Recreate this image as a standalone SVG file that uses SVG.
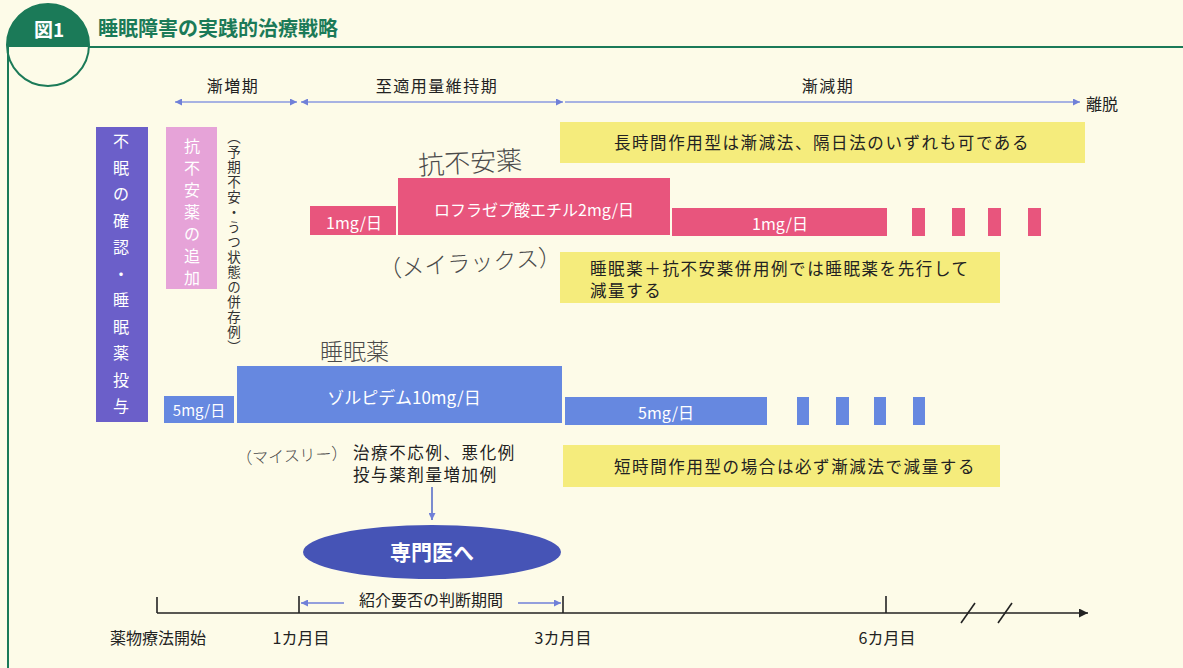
<svg xmlns="http://www.w3.org/2000/svg" width="1183" height="668" viewBox="0 0 1183 668">
<defs>
<style>
text{font-family:"Noto Sans CJK JP","Noto Sans CJK SC",sans-serif;}
.lbl{font-size:16px;fill:#222;}
.yel{fill:#f5ec7c;}
.ytx{font-size:16.5px;fill:#222;letter-spacing:1.6px;}
.wt{fill:#fff;}
.hand{font-weight:300;fill:#4a4a4a;}
.red{fill:#e8557d;}
.blu{fill:#6688e0;}
.per{stroke:#8a9ae0;stroke-width:1.6;fill:none;}
.tl{stroke:#222;stroke-width:1.6;fill:none;}
.vt{font-size:13.5px;fill:#333;letter-spacing:1.5px;writing-mode:vertical-rl;}
</style>
<marker id="ah" viewBox="0 0 10 10" refX="10" refY="5" markerWidth="8" markerHeight="7" markerUnits="userSpaceOnUse" orient="auto-start-reverse">
<path d="M0,0 L10,5 L0,10 z" fill="#7080d8"/>
</marker>
<marker id="ahk" viewBox="0 0 10 10" refX="10" refY="5" markerWidth="13" markerHeight="9" markerUnits="userSpaceOnUse" orient="auto">
<path d="M0,0 L10,5 L0,10 z" fill="#222"/>
</marker>
<clipPath id="topHalf"><rect x="0" y="0" width="100" height="47"/></clipPath>
</defs>
<rect x="0" y="0" width="1183" height="668" fill="#fdfbe8"/>

<g id="header">
<circle cx="48" cy="45" r="41" fill="#1b7a58" clip-path="url(#topHalf)"/>
<circle cx="48" cy="45" r="41" fill="none" stroke="#1b7a58" stroke-width="2"/>
<line x1="89" y1="47" x2="1183" y2="47" stroke="#1b7a58" stroke-width="2"/>
<line x1="8" y1="45" x2="8" y2="668" stroke="#1b7a58" stroke-width="2"/>
<text x="49" y="37" text-anchor="middle" font-size="19" font-weight="700" fill="#fff">図1</text>
<text x="98" y="36" font-size="20" font-weight="700" fill="#1b7a58">睡眠障害の実践的治療戦略</text>
</g>

<g id="periods">
<text class="lbl" x="233" y="92" text-anchor="middle" letter-spacing="1.5">漸増期</text>
<text class="lbl" x="437" y="92" text-anchor="middle" letter-spacing="1.5">至適用量維持期</text>
<text class="lbl" x="828" y="92" text-anchor="middle" letter-spacing="1.5">漸減期</text>
<text class="lbl" x="1086" y="110">離脱</text>
</g>

<g id="box-insomnia">
<rect x="96" y="127" width="52" height="295" fill="#6b5fc9"/>
<text class="wt" font-size="16" text-anchor="middle">
<tspan x="121" y="147">不</tspan><tspan x="121" y="173.5">眠</tspan><tspan x="121" y="200">の</tspan><tspan x="121" y="226.5">確</tspan><tspan x="121" y="253">認</tspan><tspan x="121" y="279.5">・</tspan><tspan x="121" y="306">睡</tspan><tspan x="121" y="332.5">眠</tspan><tspan x="121" y="359">薬</tspan><tspan x="121" y="385.5">投</tspan><tspan x="121" y="412">与</tspan>
</text>
</g>

<g id="box-anxiolytic">
<rect x="166" y="127" width="51" height="162" fill="#e6a3d8"/>
<text class="wt" font-size="16" text-anchor="middle">
<tspan x="192" y="152">抗</tspan><tspan x="192" y="174">不</tspan><tspan x="192" y="196">安</tspan><tspan x="192" y="218">薬</tspan><tspan x="192" y="240">の</tspan><tspan x="192" y="262">追</tspan><tspan x="192" y="284">加</tspan>
</text>
</g>

<g id="note-comorbid">
<text class="vt" x="234" y="130">（予期不安・うつ状態の併存例）</text>
</g>

<g id="bar-lorazepate">
<rect class="red" x="310" y="206" width="86" height="29"/>
<rect class="red" x="398" y="178" width="272" height="57"/>
<rect class="red" x="672" y="208" width="215" height="28"/>
<rect class="red" x="912" y="208" width="13" height="28"/>
<rect class="red" x="952" y="208" width="13" height="28"/>
<rect class="red" x="988" y="208" width="13" height="28"/>
<rect class="red" x="1028" y="208" width="13" height="28"/>
<text class="wt" x="354" y="229" font-size="16" text-anchor="middle">1mg/日</text>
<text class="wt" x="534" y="216" font-size="16" text-anchor="middle">ロフラゼプ酸エチル2mg/日</text>
<text class="wt" x="780" y="230" font-size="16" text-anchor="middle">1mg/日</text>
</g>

<g id="bar-zolpidem">
<rect class="blu" x="164" y="396" width="70" height="27"/>
<rect class="blu" x="237" y="366" width="325" height="57"/>
<rect class="blu" x="565" y="397" width="202" height="28"/>
<rect class="blu" x="797" y="397" width="12" height="28"/>
<rect class="blu" x="836" y="397" width="13" height="28"/>
<rect class="blu" x="874" y="397" width="12" height="28"/>
<rect class="blu" x="913" y="397" width="12" height="28"/>
<text class="wt" x="199" y="416" font-size="15" text-anchor="middle">5mg/日</text>
<text class="wt" x="404" y="404" font-size="17" text-anchor="middle">ゾルピデム10mg/日</text>
<text class="wt" x="666" y="419" font-size="16" text-anchor="middle">5mg/日</text>
</g>

<g id="handwritten">
<text class="hand" x="418" y="172" font-size="26" transform="rotate(-3 470 160)">抗不安薬</text>
<text class="hand" x="378" y="272" font-size="23" transform="rotate(-4 460 258)">（メイラックス）</text>
<text class="hand" x="320" y="360" font-size="23">睡眠薬</text>
<text class="hand" x="236" y="462" font-size="16" transform="rotate(-3 285 455)">（マイスリー）</text>
</g>

<g id="note-long">
<rect class="yel" x="560" y="122" width="525" height="41"/>
<text class="ytx" x="822" y="149" text-anchor="middle">長時間作用型は漸減法、隔日法のいずれも可である</text>
</g>

<g id="note-combined">
<rect class="yel" x="560" y="252" width="440" height="51"/>
<text class="ytx" x="590" y="275">睡眠薬＋抗不安薬併用例では睡眠薬を先行して</text>
<text class="ytx" x="590" y="297">減量する</text>
</g>

<g id="note-short">
<rect class="yel" x="563" y="445" width="437" height="42"/>
<text class="ytx" x="795" y="473" text-anchor="middle">短時間作用型の場合は必ず漸減法で減量する</text>
</g>

<g id="note-refractory">
<text class="ytx" x="353" y="459" letter-spacing="0.5">治療不応例、悪化例</text>
<text class="ytx" x="353" y="481" letter-spacing="0.5">投与薬剤量増加例</text>
</g>

<g id="specialist">
<ellipse cx="432" cy="552" rx="129" ry="27" fill="#4654b6"/>
<text x="432" y="560" font-size="21" font-weight="700" fill="#fff" text-anchor="middle">専門医へ</text>
</g>

<g id="timeline-labels">
<text class="lbl" x="158" y="644" text-anchor="middle">薬物療法開始</text>
<text class="lbl" x="301" y="644" text-anchor="middle">1カ月目</text>
<text class="lbl" x="563" y="644" text-anchor="middle">3カ月目</text>
<text class="lbl" x="887" y="644" text-anchor="middle">6カ月目</text>
<text class="lbl" x="431" y="606" text-anchor="middle" font-size="15">紹介要否の判断期間</text>
</g>

<g id="connectors">
<line class="per" x1="175" y1="102" x2="297" y2="102" marker-start="url(#ah)" marker-end="url(#ah)"/>
<line class="per" x1="301" y1="102" x2="563" y2="102" marker-start="url(#ah)" marker-end="url(#ah)"/>
<line class="per" x1="565" y1="102" x2="1080" y2="102" marker-end="url(#ah)"/>
<line x1="432" y1="487" x2="432" y2="520" stroke="#5a70c8" stroke-width="1.6" marker-end="url(#ah)"/>
<line x1="157" y1="613" x2="1088" y2="613" class="tl" marker-end="url(#ahk)"/>
<line x1="157" y1="597" x2="157" y2="613" class="tl"/>
<line x1="299" y1="596" x2="299" y2="613" class="tl"/>
<line x1="563" y1="596" x2="563" y2="613" class="tl"/>
<line x1="886" y1="596" x2="886" y2="613" class="tl"/>
<line x1="961" y1="623" x2="975" y2="603" class="tl"/>
<line x1="998" y1="623" x2="1012" y2="603" class="tl"/>
<line x1="301" y1="603" x2="344" y2="603" stroke="#7080d8" stroke-width="1.4" marker-start="url(#ah)"/>
<line x1="518" y1="603" x2="561" y2="603" stroke="#7080d8" stroke-width="1.4" marker-end="url(#ah)"/>
</g>
</svg>
